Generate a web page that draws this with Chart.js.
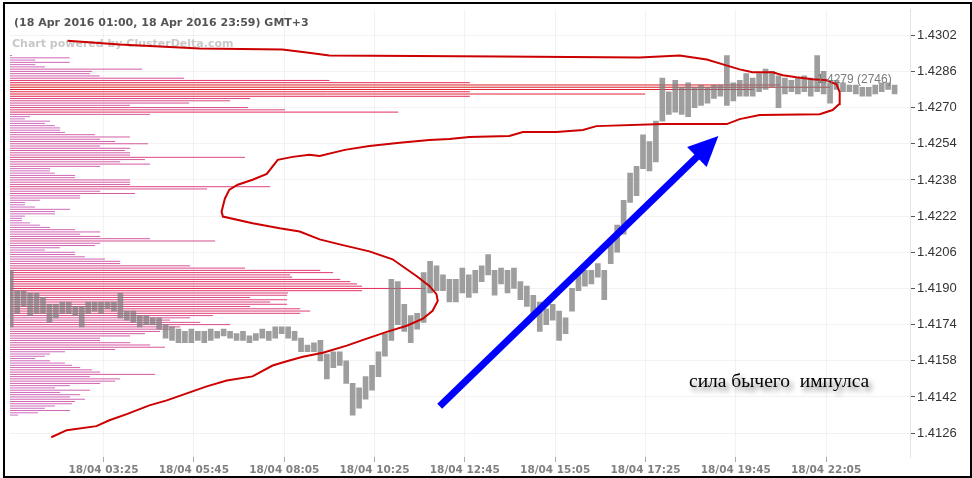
<!DOCTYPE html>
<html>
<head>
<meta charset="utf-8">
<script src="https://cdn.jsdelivr.net/npm/chart.js@4.4.1/dist/chart.umd.min.js"></script>
<style>
  html, body { margin: 0; padding: 0; background: #fff; }
  canvas { display: block; }
</style>
</head>
<body>
<canvas id="chart" width="972" height="478"></canvas>
<script>
// 10-minute bars from 18/04 01:00 (minutes since midnight)
const barStart = 60;
const barMinutes = 10;
const priceHigh = [
  1.4198, 1.4189, 1.4189, 1.4188, 1.4188, 1.4186, 1.4183, 1.4183, 1.4184, 1.4184,
  1.4182, 1.4182, 1.4184, 1.4184, 1.4184, 1.4184, 1.4184, 1.4188, 1.4180, 1.4180,
  1.4178, 1.4178, 1.4177, 1.4177, 1.4174, 1.4173, 1.4172, 1.4171, 1.4172, 1.4171,
  1.4171, 1.4172, 1.4171, 1.4172, 1.4171, 1.4170, 1.4171, 1.4169, 1.4170, 1.4172,
  1.4171, 1.4173, 1.4173, 1.4173, 1.4171, 1.4168, 1.4165, 1.4166, 1.4167, 1.4161,
  1.4162, 1.4162, 1.4158, 1.4148, 1.4146, 1.4151, 1.4156, 1.4162, 1.4170, 1.4194,
  1.4193, 1.4183, 1.4178, 1.4179, 1.4197, 1.4202, 1.4200, 1.4196, 1.4194, 1.4194,
  1.4199, 1.4196, 1.4198, 1.4200, 1.4205, 1.4198, 1.4199, 1.4198, 1.4199, 1.4193,
  1.4191, 1.4187, 1.4184, 1.4181, 1.4183, 1.4180, 1.4177, 1.4190, 1.4197, 1.4198,
  1.4198, 1.4201, 1.4198, 1.4212, 1.4218, 1.4229, 1.4241, 1.4244, 1.4258, 1.4255,
  1.4264, 1.4283, 1.4277, 1.4282, 1.4279, 1.4281, 1.4279, 1.4280, 1.4279, 1.4280,
  1.4280, 1.4293, 1.4281, 1.4282, 1.4285, 1.4283, 1.4285, 1.4287, 1.4286, 1.4284,
  1.4283, 1.4282, 1.4283, 1.4284, 1.4283, 1.4293, 1.4286, 1.4281, 1.4282, 1.4281,
  1.4280, 1.4280, 1.4279, 1.4279, 1.4280, 1.4281, 1.4281, 1.4280
];
const priceLow = [
  1.4173, 1.4179, 1.4182, 1.4178, 1.4179, 1.4179, 1.4175, 1.4177, 1.4179, 1.4179,
  1.4178, 1.4173, 1.4179, 1.4180, 1.4179, 1.4181, 1.4180, 1.4177, 1.4176, 1.4175,
  1.4173, 1.4174, 1.4174, 1.4172, 1.4168, 1.4167, 1.4166, 1.4166, 1.4166, 1.4167,
  1.4166, 1.4167, 1.4168, 1.4169, 1.4168, 1.4167, 1.4167, 1.4166, 1.4167, 1.4168,
  1.4167, 1.4168, 1.4170, 1.4168, 1.4167, 1.4162, 1.4162, 1.4162, 1.4158, 1.4150,
  1.4155, 1.4156, 1.4148, 1.4134, 1.4137, 1.4141, 1.4145, 1.4151, 1.4160, 1.4167,
  1.4174, 1.4171, 1.4166, 1.4172, 1.4175, 1.4188, 1.4189, 1.4189, 1.4184, 1.4184,
  1.4188, 1.4186, 1.4188, 1.4193, 1.4196, 1.4187, 1.4192, 1.4188, 1.4190, 1.4185,
  1.4182, 1.4178, 1.4171, 1.4174, 1.4176, 1.4167, 1.4170, 1.4180, 1.4189, 1.4191,
  1.4192, 1.4195, 1.4185, 1.4201, 1.4206, 1.4214, 1.4228, 1.4231, 1.4243, 1.4242,
  1.4246, 1.4264, 1.4267, 1.4268, 1.4267, 1.4266, 1.4270, 1.4271, 1.4272, 1.4274,
  1.4275, 1.4271, 1.4273, 1.4275, 1.4275, 1.4275, 1.4277, 1.4278, 1.4279, 1.4270,
  1.4276, 1.4277, 1.4276, 1.4277, 1.4275, 1.4277, 1.4276, 1.4272, 1.4278, 1.4277,
  1.4277, 1.4276, 1.4275, 1.4275, 1.4276, 1.4277, 1.4278, 1.4276
];

// volume profile, one value per pip from the top level down
const profileTop = 1.4293;
const profileStep = 0.0001;
const profileVol = [
  7, 200, 85, 200, 85, 117, 442, 275, 268, 300,
  583, 1070, 1540, 2580, 2746, 2490, 1540, 2127, 1540, 804,
  737, 600, 402, 797, 921, 1300, 469, 67, 50, 134,
  117, 150, 168, 168, 184, 285, 402, 302, 352, 462,
  302, 402, 385, 402, 402, 787, 452, 369, 469, 302,
  134, 134, 150, 218, 218, 402, 402, 402, 871, 660,
  302, 419, 235, 235, 100, 50, 50, 84, 201, 151,
  151, 50, 40, 40, 67, 100, 134, 218, 302, 235,
  302, 469, 687, 302, 285, 168, 117, 218, 218, 251,
  318, 369, 369, 603, 787, 1039, 1082, 938, 945, 1106,
  1139, 1162, 1179, 1390, 1179, 931, 928, 804, 928, 871,
  928, 804, 972, 1005, 972, 680, 603, 536, 637, 737,
  570, 536, 503, 452, 402, 302, 302, 402, 469, 519,
  352, 184, 134, 117, 84, 134, 184, 208, 235, 275,
  302, 486, 268, 369, 352, 302, 201, 151, 268, 168,
  235, 201, 251, 218, 208, 151, 117, 201, 94, 27
];
const pocPrice = 1.4279;
const pocVol = 2746;

// red contour (minutes, price)
const outlineTime = [
  124, 148, 194, 214, 241, 276, 303, 334, 365, 396, 436, 467, 493, 514, 545, 582, 613, 644, 675, 700,
  715, 723, 721, 710, 690, 675, 653, 617, 571, 540, 509, 478, 436, 390, 388, 393, 400, 413, 436, 458,
  475, 498, 524, 540, 579, 617, 664, 710, 741, 772, 834, 855, 907, 948, 969, 1072, 1171, 1191, 1222, 1315,
  1335, 1345, 1346, 1341, 1326, 1304, 1279, 1258, 1242, 1211, 1191, 1165, 1140, 1098, 1036, 819, 555, 520, 482, 354,
  230, 149
];
const outlinePrice = [
  1.41242, 1.41273, 1.41291, 1.41317, 1.41344, 1.41383, 1.41405, 1.41436, 1.41467, 1.41493,
  1.41511, 1.41559, 1.41581, 1.41598, 1.41616, 1.41647, 1.41678, 1.41708, 1.41735, 1.41766,
  1.41801, 1.41845, 1.41875, 1.41911, 1.41955, 1.41985, 1.42029, 1.42064, 1.42095, 1.42117,
  1.42152, 1.42166, 1.42188, 1.42218, 1.42240, 1.42297, 1.42337, 1.42359, 1.42381, 1.42407,
  1.42469, 1.42482, 1.42491, 1.42486, 1.42513, 1.42530, 1.42544, 1.42557, 1.42561, 1.42570,
  1.42574, 1.42592, 1.42592, 1.42601, 1.42618, 1.42627, 1.42627, 1.42649, 1.42667, 1.42671,
  1.42689, 1.42715, 1.42768, 1.42803, 1.42821, 1.42825, 1.42834, 1.42843, 1.42856, 1.42856,
  1.42869, 1.42891, 1.42913, 1.42930, 1.42922, 1.42926, 1.42930, 1.42944, 1.42957, 1.42961,
  1.42979, 1.42996
];

// blue arrow (minutes, price)
const arrowTime = [726, 1158];
const arrowPrice = [1.41379, 1.42574];

const yTicks = [1.4126, 1.4142, 1.4158, 1.4174, 1.4190, 1.4206, 1.4222, 1.4238, 1.4254, 1.4270, 1.4286, 1.4302];
const xTickLabels = ['18/04 03:25', '18/04 05:45', '18/04 08:05', '18/04 10:25', '18/04 12:45',
  '18/04 15:05', '18/04 17:25', '18/04 19:45', '18/04 22:05'];

const titleText = '(18 Apr 2016 01:00, 18 Apr 2016 23:59) GMT+3';
const poweredText = 'Chart powered by ClusterDelta.com';
const noteText = 'сила бычего  импулса';

function toMinutes(label) {
  const hm = label.split(' ')[1].split(':');
  return +hm[0] * 60 + +hm[1];
}
function toLabel(min) {
  const h = Math.floor(min / 60), m = min % 60;
  return '18/04 ' + String(h).padStart(2, '0') + ':' + String(m).padStart(2, '0');
}

function volColor(v) {
  const f = Math.min(1, v / 1400);
  let r = 205 + 25 * f, g = 115 - 75 * f, b = 200 - 115 * f;
  if (v > 1400) {
    const h = Math.min(1, (v - 1400) / 1346);
    r = 230 - 10 * h; g = 40 - 10 * h; b = 85 - 50 * h;
  }
  return `rgb(${r | 0},${g | 0},${b | 0})`;
}

const barTimes = priceHigh.map((_, i) => barStart + barMinutes * i + barMinutes / 2);

const profileLines = [];
profileVol.forEach((v, k) => {
  const p = +(profileTop - k * profileStep).toFixed(4);
  profileLines.push({x: 0, y: p}, {x: v, y: p}, {x: v, y: null});
});

const decorations = {
  id: 'decorations',
  beforeDatasetsDraw(chart) {
    const ctx = chart.ctx;
    ctx.save();
    ctx.textBaseline = 'alphabetic';
    ctx.textAlign = 'left';
    ctx.font = 'bold 11px "DejaVu Sans"';
    ctx.fillStyle = '#555';
    ctx.fillText(titleText, 14, 26);
    ctx.fillStyle = '#c8c8c8';
    ctx.fillText(poweredText, 12, 47);
    ctx.restore();
  },
  afterDatasetsDraw(chart) {
    const ctx = chart.ctx;
    const sx = chart.scales.x, sy = chart.scales.y, sv = chart.scales.xv;
    ctx.save();

    // POC label
    ctx.font = '12px "Liberation Sans"';
    ctx.fillStyle = '#7a7a7a';
    ctx.fillText(`${pocPrice.toFixed(4)} (${pocVol})`, sv.getPixelForValue(pocVol) - 13, sy.getPixelForValue(pocPrice) - 4);

    // arrow
    const x0 = sx.getPixelForValue(arrowTime[0]), y0 = sy.getPixelForValue(arrowPrice[0]);
    const x1 = sx.getPixelForValue(arrowTime[1]), y1 = sy.getPixelForValue(arrowPrice[1]);
    const ang = Math.atan2(y1 - y0, x1 - x0);
    const headLen = 30, headW = 14;
    const bx = x1 - headLen * Math.cos(ang), by = y1 - headLen * Math.sin(ang);
    ctx.strokeStyle = '#0000ff';
    ctx.fillStyle = '#0000ff';
    ctx.lineWidth = 7;
    ctx.beginPath();
    ctx.moveTo(x0, y0);
    ctx.lineTo(bx + 4 * Math.cos(ang), by + 4 * Math.sin(ang));
    ctx.stroke();
    ctx.beginPath();
    ctx.moveTo(x1, y1);
    ctx.lineTo(bx + headW * Math.sin(ang), by - headW * Math.cos(ang));
    ctx.lineTo(bx - headW * Math.sin(ang), by + headW * Math.cos(ang));
    ctx.closePath();
    ctx.fill();

    // note with soft shadow
    ctx.font = '19.5px "Liberation Serif"';
    ctx.fillStyle = '#000';
    ctx.shadowColor = 'rgba(0,0,0,0.5)';
    ctx.shadowBlur = 5;
    ctx.shadowOffsetX = 3;
    ctx.shadowOffsetY = 4;
    ctx.fillText(noteText, 689, 387);
    ctx.restore();
  },
  afterDraw(chart) {
    const ctx = chart.ctx;
    ctx.save();
    ctx.strokeStyle = '#000';
    ctx.lineWidth = 2;
    ctx.strokeRect(4, 3, 967, 474);
    ctx.restore();
  }
};

new Chart(document.getElementById('chart'), {
  type: 'line',
  data: {
    datasets: [
      {
        type: 'line',
        data: outlineTime.map((t, i) => ({x: t, y: outlinePrice[i]})),
        borderColor: '#cc0000',
        borderWidth: 2,
        pointRadius: 0,
        tension: 0,
        xAxisID: 'x',
        yAxisID: 'y',
        order: 1
      },
      {
        type: 'bar',
        data: barTimes.map((t, i) => ({x: t, y: [priceLow[i], priceHigh[i]]})),
        backgroundColor: 'rgba(125,125,125,0.75)',
        borderWidth: 0,
        barThickness: 5,
        xAxisID: 'x',
        yAxisID: 'y',
        order: 2
      },
      {
        type: 'line',
        data: profileLines,
        borderWidth: 1,
        pointRadius: 0,
        spanGaps: false,
        borderColor: '#d070c0',
        segment: {
          borderColor: c => volColor(c.p1.parsed.x)
        },
        xAxisID: 'xv',
        yAxisID: 'y',
        order: 3
      }
    ]
  },
  options: {
    responsive: false,
    animation: false,
    devicePixelRatio: 1,
    layout: { padding: { left: 10, top: 7, right: 0, bottom: 0 } },
    plugins: { legend: { display: false }, tooltip: { enabled: false } },
    scales: {
      x: {
        type: 'linear',
        min: 60,
        max: 1455,
        offset: false,
        afterBuildTicks: s => { s.ticks = xTickLabels.map(l => ({value: toMinutes(l)})); },
        afterFit: s => { s.height = 21; },
        ticks: {
          autoSkip: false,
          maxRotation: 0,
          padding: 2,
          color: '#808080',
          font: { family: 'DejaVu Sans', size: 10.5, weight: 'bold' },
          callback: v => toLabel(v)
        },
        grid: { offset: false, color: 'rgba(0,0,0,0.05)', tickColor: '#aaa', tickLength: 5 },
        border: { display: false }
      },
      xv: { type: 'linear', display: false, offset: false, min: 0, max: 3014 },
      y: {
        position: 'right',
        min: 1.411545,
        max: 1.431325,
        afterBuildTicks: s => { s.ticks = yTicks.map(v => ({value: v})); },
        afterFit: s => { s.width = 62; },
        ticks: {
          padding: 2,
          color: '#333',
          font: { family: 'Liberation Sans', size: 13 },
          callback: v => v.toFixed(4)
        },
        grid: { color: 'rgba(0,0,0,0.05)', tickColor: '#555', tickLength: 5 },
        border: { color: '#e4e4e4' }
      }
    }
  },
  plugins: [decorations]
});
</script>
</body>
</html>
